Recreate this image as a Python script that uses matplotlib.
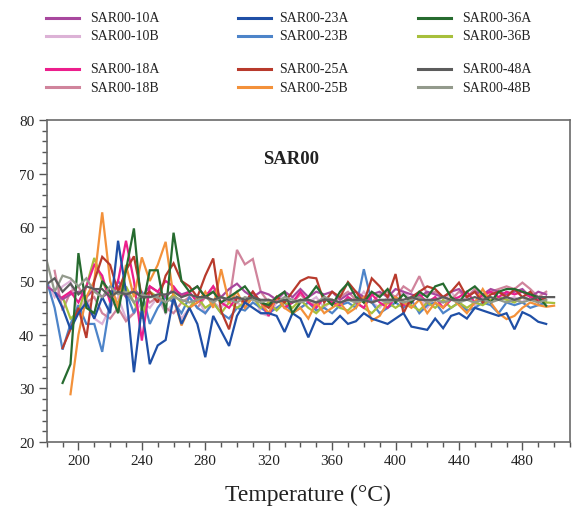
import numpy as np
import matplotlib.pyplot as plt
from matplotlib.lines import Line2D
from matplotlib.ticker import MultipleLocator

plt.rcParams['font.family'] = ['Liberation Serif', 'DejaVu Serif']

# sample names, colours and first temperature of each curve (step is 5 degC)
names = ['SAR00-10A', 'SAR00-10B', 'SAR00-23A', 'SAR00-23B', 'SAR00-36A', 'SAR00-36B',
         'SAR00-18A', 'SAR00-18B', 'SAR00-25A', 'SAR00-25B', 'SAR00-48A', 'SAR00-48B']
colors = ['#a8489e', '#dcb2d6', '#1f4fa6', '#4d84c9', '#266b2f', '#a7bf3c',
          '#ec1e8c', '#d0849c', '#b83a2c', '#f3913a', '#5c5c5c', '#939a8c']
starts = [180, 180, 185, 180, 190, 190, 190, 185, 190, 195, 180, 180]

sar10a = [49, 48, 46.6, 47.5, 48, 47, 48.5, 47, 48, 49, 47, 48.5, 47,
          49, 48, 47, 48.5, 47.5, 48, 49, 47, 48, 47, 48.5, 49.5, 48,
          47, 48, 47.5, 46.5, 48, 47, 48.5, 47, 48, 47.5, 48, 46.5, 47.5,
          48, 47, 47.5, 48, 47, 48.5, 48, 47.5, 47, 48, 47.5, 47, 48,
          48.5, 47, 48, 47.5, 48.5, 48, 47.5, 48, 48.5, 47, 48, 47.5]
sar10b = [50, 47, 49, 50, 44, 47, 43, 42, 45, 47, 43, 44, 46,
          45, 47, 44, 46, 43, 45, 47, 44, 46, 45, 47, 46, 45,
          48, 44, 43.5, 46, 48, 47, 45, 46, 47, 45, 46.5, 45, 47,
          46, 48, 46, 45, 47, 46, 48, 46.5, 47, 45, 47, 46, 48,
          46, 47, 45.5, 47, 46, 48, 46.5, 47, 46, 48, 47, 46.5]
sar23a = [48, 45, 41, 44, 46, 43, 47, 44, 57.5, 48, 33, 45,
          34.5, 38, 39, 47, 42, 45, 42, 35.8, 43.5, 40.7, 37.9, 43.5,
          46, 45, 44, 44, 43.5, 40.5, 44, 43, 39.5, 43, 42, 42,
          43.5, 42, 42.5, 44, 43, 42.5, 42, 43, 44, 41.5, 41.2, 40.9,
          43, 41.2, 43.5, 44, 43, 45, 44.5, 44, 43.5, 44, 41, 44.2,
          43.5, 42.4, 42]
sar23b = [50, 45, 37.2, 42, 45.5, 42, 42, 36.8, 46, 50, 48, 44, 48,
          42, 45, 47, 46, 44, 47, 45, 44, 46, 44, 43, 45, 44.5,
          46, 45, 44, 45, 46, 44, 45, 46, 44.5, 45, 44, 45.5, 46,
          45, 52.2, 46, 44, 45, 46, 45, 46.5, 44, 45.5, 46, 44, 45,
          46, 44.5, 45, 46, 45.5, 44, 46, 45.5, 46, 45, 45.5, 46]
sar36a = [31, 34.5, 55.2, 45, 44, 50, 48, 44, 52, 59.8, 44.5,
          52, 52, 44, 59, 50, 48, 49, 47, 48, 46, 47, 48,
          49, 47, 46, 45.5, 47, 48, 44, 46, 47, 49, 47, 45.5,
          48, 49.6, 47, 46, 48, 47, 48.5, 46, 47.5, 46, 48, 47,
          49, 49.5, 47, 46, 48, 49, 47.5, 46, 48, 48.5, 48.5, 48,
          47.5, 47, 45.4]
sar36b = [47, 43, 44.2, 49, 54.3, 50, 47, 46, 49, 46, 43,
          48, 47, 46, 47.5, 46, 45, 47, 45, 46, 44, 46, 45,
          46, 47, 45, 46, 44.5, 46, 45, 46.5, 45, 44, 45.5, 46,
          45, 44.5, 46, 45, 44, 45.5, 46, 45, 46, 45.5, 44.5, 46,
          45, 46.5, 45, 46, 45, 46, 45.5, 46.5, 47, 46.5, 46, 47,
          46.5, 46.5, 46, 45.9]
sar18a = [47, 48, 46, 49, 53, 51, 46, 50, 57.5, 50, 38.9,
          49, 48, 50, 49, 47, 48, 46, 47, 49, 46, 45, 47,
          46, 48, 46, 43.5, 47, 45, 46, 48, 46, 45, 47, 46,
          45.5, 47, 46, 45, 47.5, 46, 45, 47, 45.5, 46, 47.5, 46,
          47, 45, 46.5, 47, 48, 46, 47.5, 48, 47, 48, 47.5, 48,
          47, 46.5, 47]
sar18b = [51.9, 44.5, 48, 49, 46, 47, 44, 43, 45, 42.5, 44, 48,
          46, 47, 45, 44, 46, 47, 45, 47, 49, 47, 46, 55.8,
          53.1, 54.1, 48, 46, 47, 45, 46, 47.5, 46, 45.5, 47, 46,
          47, 48, 46.5, 47, 46, 47.5, 48, 47, 49, 48, 50.9, 47.5,
          48, 47, 46.5, 48, 47, 48.5, 47, 48, 48.5, 49, 48.5, 49.7,
          48.5, 47, 48]
sar25a = [37.5, 41, 45, 39.4, 50, 54.5, 53, 48, 52, 54.6, 47,
          48, 46, 51, 53.3, 50, 49, 47, 51, 54.2, 44.4, 41, 47,
          46, 48, 46, 45, 47, 46, 48, 50, 50.7, 50.5, 46, 48,
          47, 49.8, 48, 46, 50.5, 49, 47, 51.3, 44, 47, 48, 49,
          48.5, 47, 48, 49.7, 47, 48, 46, 47.5, 48, 47, 48.5, 47,
          48, 46, 47]
sar25b = [28.9, 40, 47, 50, 62.8, 50, 45, 53, 47, 54.4,
          50, 53, 57.3, 47, 41.7, 45, 46, 48, 45, 52.2, 46, 48,
          45, 47, 46, 44, 47, 45, 44, 45, 43, 46, 44, 45,
          46, 44, 45, 47, 42.6, 43.5, 46, 47, 46, 45, 46.5, 44,
          46, 45, 47, 45.5, 44, 46, 48.5, 46, 44, 42.9, 43.5, 45,
          46, 45.5, 45.2, 45.4]
sar48a = [49.4, 50.5, 48, 49.5, 47.5, 49, 48.5, 48.5, 47, 48, 47.5, 48, 47,
          47, 47.5, 47.5, 48, 47, 47.5, 47, 47, 46.5, 47, 46.5, 47, 46.5,
          47, 46.5, 46.5, 46, 46.5, 46, 46.5, 46.5, 46, 46.5, 46.5, 46, 46.5,
          46.5, 46.5, 46, 46.5, 46.5, 46.5, 46.5, 47, 46.5, 46.5, 46.5, 47, 46.5,
          46.5, 46.5, 47, 46.5, 47, 46.5, 47, 46.5, 47, 46.5, 47, 47, 47]
sar48b = [53.8, 48, 51, 50.5, 49, 50.5, 48, 47, 49, 47.5, 48, 46, 47.5,
          47, 47, 46, 47, 46.5, 46, 46.5, 47, 46, 47, 46.5, 46, 47,
          46.5, 46, 46.5, 46, 47, 46.5, 46, 46.5, 46, 47, 46.5, 46, 46.5,
          46, 46.5, 46, 46.5, 46, 46.5, 46, 46.5, 47, 46, 46.5, 46, 46.5,
          46, 46.5, 46, 46.5, 46, 46.5, 46, 46.5, 46, 46.5, 46, 46.5]

series = [sar10a, sar10b, sar23a, sar23b, sar36a, sar36b,
          sar18a, sar18b, sar25a, sar25b, sar48a, sar48b]

fig = plt.figure(figsize=(5.81, 5.10), dpi=100)
ax = fig.add_axes([0.0804, 0.1314, 0.9006, 0.6313])

# draw order: thinner/background ones first, the grey means on top
draw_order = [1, 7, 3, 5, 0, 6, 9, 8, 2, 4, 11, 10]
for k in draw_order:
    vals = np.array(series[k], dtype=float)
    temps = starts[k] + 5 * np.arange(len(vals))
    ax.plot(temps, vals, color=colors[k], lw=1.6, solid_joinstyle='miter')

ax.set_xlim(180, 510)
ax.set_ylim(20, 80)
ax.xaxis.set_major_locator(MultipleLocator(40))
ax.xaxis.set_minor_locator(MultipleLocator(10))
ax.yaxis.set_major_locator(MultipleLocator(10))
ax.yaxis.set_minor_locator(MultipleLocator(2))
ax.set_xticks(np.arange(200, 481, 40))
ax.tick_params(which='major', direction='out', length=6, width=1.0, color='#555555',
               labelsize=11, labelcolor='#222222', pad=3)
ax.tick_params(which='minor', direction='out', length=3.5, width=1.0, color='#555555')
for side in ['left', 'bottom', 'top', 'right']:
    ax.spines[side].set_color('#6a6a6a')
    ax.spines[side].set_linewidth(1.2)

ax.set_xlabel('Temperature (°C)', fontsize=17, color='#222222', labelpad=12)
ax.text(0.467, 0.879, 'SAR00', transform=ax.transAxes, ha='center', va='center',
        fontsize=13.5, fontweight='bold', color='#222222')

# legend laid out as in the source: two blocks of three columns
W, H = 581.0, 510.0
col_line_x = [46, 238, 418]
col_text_x = [90, 279, 462]
row_y = [19, 37, 70, 88]
for k, (name, c) in enumerate(zip(names, colors)):
    block, rest = divmod(k, 6)
    col, row = divmod(rest, 2)
    y = 1 - row_y[block * 2 + row] / H
    x0 = col_line_x[col] / W
    fig.add_artist(Line2D([x0, x0 + 33 / W], [y, y], color=c, lw=2.2,
                          transform=fig.transFigure))
    fig.text(col_text_x[col] / W, y, name, ha='left', va='center',
             fontsize=10, color='#222222')

fig.savefig('out.png', dpi=100)
